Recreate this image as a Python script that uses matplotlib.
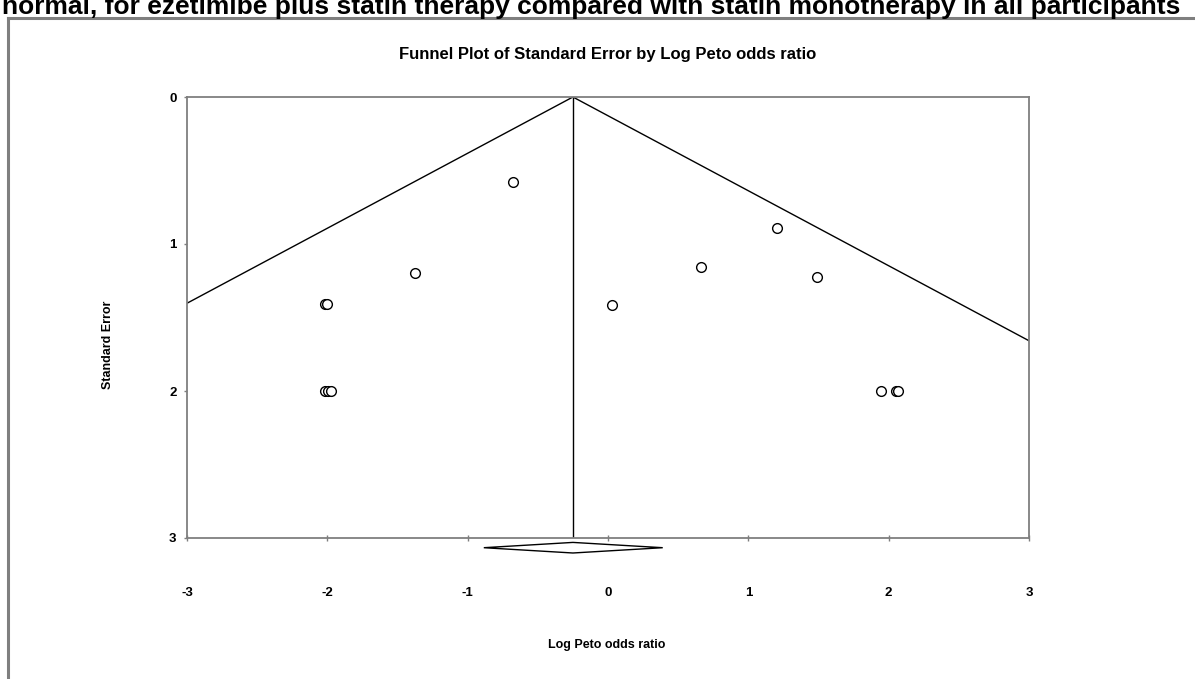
import matplotlib.pyplot as plt
from matplotlib.lines import Line2D
import numpy as np

plt.rcParams['font.family'] = ['Liberation Sans', 'DejaVu Sans']

# study points (log Peto odds ratio, standard error)
log_or = [-0.677, -1.375, -2.017, -2.002, -2.017, -1.995, -1.974,
          0.028, 0.663, 1.204, 1.489, 1.945, 2.052, 2.066]
std_err = [0.578, 1.197, 1.408, 1.408, 2.0, 2.0, 2.0,
           1.415, 1.156, 0.891, 1.224, 2.0, 2.0, 2.0]

# combined estimate and its CI (diamond)
pooled = -0.25
ci_low, ci_high = -0.885, 0.39

x_ticks = [-3, -2, -1, 0, 1, 2, 3]
y_ticks = [0, 1, 2, 3]

W, H = 1195, 679
fig = plt.figure(figsize=(W / 100, H / 100), dpi=100)

# outer frame (only top and left edge visible)
frame_col = '#7f7f7f'
fig.add_artist(Line2D([7.5 / W, 7.5 / W], [1 - 18 / H, 0], color=frame_col, lw=2.2))
fig.add_artist(Line2D([7.5 / W, 1], [1 - 18 / H, 1 - 18 / H], color=frame_col, lw=2.2))

# heading of the page, clipped by the top edge as in the source
fig.text(0.002, 1 - 14 / H,
         'normal, for ezetimibe plus statin therapy compared with statin monotherapy in all participants',
         fontsize=19, fontweight='bold', ha='left', va='baseline')

ax = fig.add_axes([187 / W, 1 - 538 / H, (1029 - 187) / W, (538 - 97) / H])
ax.set_xlim(-3, 3)
ax.set_ylim(3, 0)

# funnel lines
se = np.array([0, 3.0])
ax.plot(pooled - 1.96 * se, se, color='black', lw=1)
ax.plot(pooled + 1.96 * se, se, color='black', lw=1)
ax.plot([pooled, pooled], [0, 3], color='black', lw=1)

ax.plot(log_or, std_err, linestyle='none', marker='o', ms=7, mfc='white',
        mec='black', mew=1)

# diamond under axis
dy = 0.036
dc = 3.066
ax.fill([ci_low, pooled, ci_high, pooled], [dc, dc - dy, dc, dc + dy],
        facecolor='white', edgecolor='black', lw=1, clip_on=False)

for s in ax.spines.values():
    s.set_color(frame_col)
    s.set_linewidth(1.3)

ax.set_xticks(x_ticks)
ax.set_yticks(y_ticks)
ax.set_xticklabels([str(v) for v in x_ticks], fontweight='bold', fontsize=9.5)
ax.set_yticklabels([str(v) for v in y_ticks], fontweight='bold', fontsize=9.5)
ax.tick_params(axis='x', direction='inout', length=5, width=1, color=frame_col, pad=33)
ax.tick_params(axis='y', direction='out', length=2.5, width=1, color=frame_col, pad=5)

ax.set_xlabel('Log Peto odds ratio', fontweight='bold', fontsize=9)
ax.xaxis.set_label_coords(0.499, -0.229)
ax.set_ylabel('Standard Error', fontweight='bold', fontsize=9)
ax.yaxis.set_label_coords(-0.0867, 0.4376)

fig.text(608 / W, 1 - 54 / H, 'Funnel Plot of Standard Error by Log Peto odds ratio',
         fontsize=12, fontweight='bold', ha='center', va='center')

fig.savefig('out.png', dpi=100)
